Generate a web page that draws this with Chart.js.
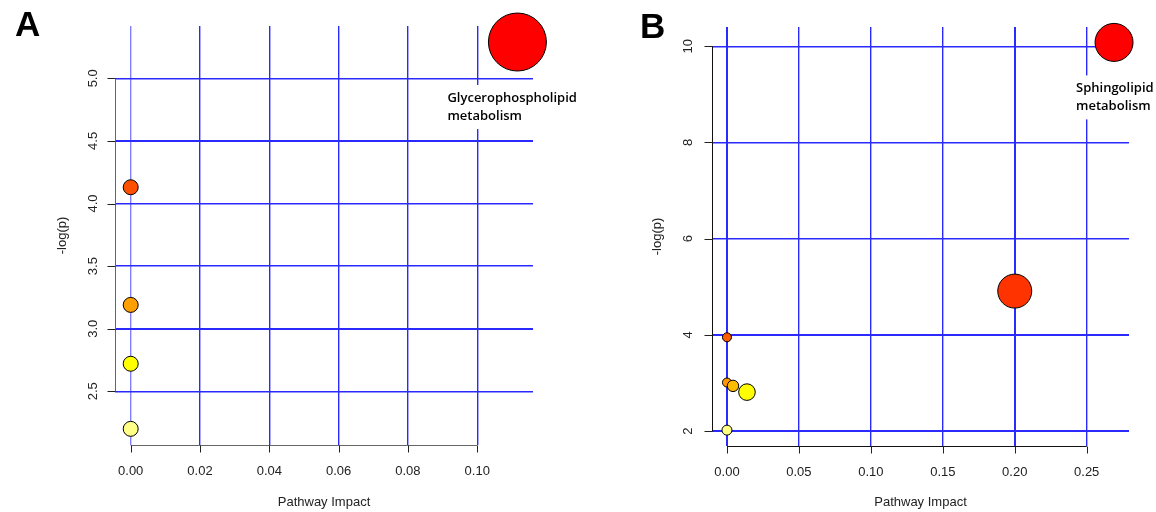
<!DOCTYPE html>
<html>
<head>
<meta charset="utf-8">
<script src="https://cdn.jsdelivr.net/npm/chart.js@4.4.1/dist/chart.umd.min.js"></script>
<style>
  html, body { margin: 0; padding: 0; background: #fff; }
  #wrap { position: relative; width: 1156px; height: 512px; overflow: hidden; }
  .panel { position: absolute; top: 0; width: 578px; height: 512px; }
  .letter { position: absolute; font-family: "Liberation Sans", Arial, sans-serif; font-weight: bold;
            font-size: 35px; line-height: 1; color: #000; }
</style>
</head>
<body>
<div id="wrap">
  <div class="panel" style="left:0"><canvas id="chartA" width="578" height="512"></canvas></div>
  <div class="panel" style="left:578px"><canvas id="chartB" width="578" height="512"></canvas></div>
  <div class="letter" style="left:15px;top:6px">A</div>
  <div class="letter" style="left:640px;top:8px">B</div>
</div>
<script>
// Panel A: pathway impact vs -log(p)
const impactA = [0.1116, 0, 0, 0, 0];
const logpA = [5.29, 4.13, 3.19, 2.72, 2.20];
const radiusA = [29, 7.5, 7.5, 7.5, 7.5];
const colorsA = ['#ff0000', '#ff5000', '#ffa000', '#ffff00', '#ffff88'];
const namesA = [['Glycerophospholipid', 'metabolism'], null, null, null, null];
const xTicksA = [0, 0.02, 0.04, 0.06, 0.08, 0.10];
const xTickLabelsA = ['0.00', '0.02', '0.04', '0.06', '0.08', '0.10'];
const yTicksA = [2.5, 3.0, 3.5, 4.0, 4.5, 5.0];
const yTickLabelsA = ['2.5', '3.0', '3.5', '4.0', '4.5', '5.0'];

// Panel B
const impactB = [0.269, 0.2, 0, 0, 0.0042, 0.0139, 0];
const logpB = [10.08, 4.91, 3.95, 3.01, 2.94, 2.81, 2.02];
const radiusB = [19, 17, 4.5, 4.5, 5.7, 8.3, 5];
const colorsB = ['#ff0000', '#ff3300', '#ff5c00', '#ff9800', '#ffbb00', '#ffff00', '#ffff88'];
const namesB = [['Sphingolipid', 'metabolism'], null, null, null, null, null, null];
const xTicksB = [0, 0.05, 0.10, 0.15, 0.20, 0.25];
const xTickLabelsB = ['0.00', '0.05', '0.10', '0.15', '0.20', '0.25'];
const yTicksB = [2, 4, 6, 8, 10];
const yTickLabelsB = ['2', '4', '6', '8', '10'];

const gridBlue = '#2a2aff';
const axisFont = { family: '"Liberation Sans", Arial, sans-serif', size: 13 };

// R style axis lines and tick marks, only from first to last tick
const rAxes = {
    id: 'rAxes',
    afterDraw(chart, args, opts) {
        const ctx = chart.ctx;
        const xs = chart.scales.x, ys = chart.scales.y;
        const area = chart.chartArea;
        const x0 = Math.round(area.left) + 0.5;
        const y0 = Math.round(area.bottom) + 0.5;
        ctx.save();
        ctx.lineWidth = 1;
        ctx.strokeStyle = opts.color;
        ctx.beginPath();
        ctx.moveTo(x0, ys.getPixelForValue(opts.yTicks[0]));
        ctx.lineTo(x0, ys.getPixelForValue(opts.yTicks[opts.yTicks.length - 1]));
        ctx.moveTo(xs.getPixelForValue(opts.xTicks[0]), y0);
        ctx.lineTo(xs.getPixelForValue(opts.xTicks[opts.xTicks.length - 1]), y0);
        ctx.stroke();
        ctx.strokeStyle = '#222';
        ctx.beginPath();
        opts.yTicks.forEach(v => {
            const py = Math.round(ys.getPixelForValue(v)) + 0.5;
            ctx.moveTo(x0 - 8, py);
            ctx.lineTo(x0, py);
        });
        opts.xTicks.forEach(v => {
            const px = Math.round(xs.getPixelForValue(v)) + 0.5;
            ctx.moveTo(px, y0);
            ctx.lineTo(px, y0 + 7);
        });
        ctx.stroke();
        ctx.restore();
    }
};

// pathway name labels on white boxes
const pathLabels = {
    id: 'pathLabels',
    afterDatasetsDraw(chart, args, opts) {
        const ctx = chart.ctx;
        const pts = chart.getDatasetMeta(0).data;
        ctx.save();
        ctx.font = opts.font;
        ctx.textBaseline = 'middle';
        ctx.textAlign = 'left';
        opts.names.forEach((lines, i) => {
            if (!lines) return;
            const px = pts[i].x + opts.dx, py = pts[i].y + opts.dy;
            let w = 0;
            lines.forEach(t => { w = Math.max(w, ctx.measureText(t).width); });
            ctx.fillStyle = '#fff';
            ctx.fillRect(px - 3, py - opts.lineH / 2 - 4, w + 6, opts.lineH * lines.length + 8);
            ctx.fillStyle = '#000';
            lines.forEach((t, k) => ctx.fillText(t, px, py + k * opts.lineH));
        });
        ctx.restore();
    }
};

function buildChart(id, d) {
    return new Chart(document.getElementById(id), {
        type: 'bubble',
        data: {
            datasets: [{
                data: d.impact.map((v, i) => ({ x: v, y: d.logp[i], r: d.radius[i] })),
                backgroundColor: d.colors,
                borderColor: '#000',
                borderWidth: 1,
                hoverRadius: 0,
                clip: false
            }]
        },
        options: {
            responsive: false,
            animation: false,
            events: [],
            layout: { padding: d.padding, autoPadding: false },
            plugins: {
                legend: { display: false },
                tooltip: { enabled: false },
                rAxes: { color: d.axisColor, xTicks: d.xTicks, yTicks: d.yTicks },
                pathLabels: { names: d.names, dx: d.labelDx, dy: d.labelDy, lineH: 18,
                              font: '600 13px "Open Sans", sans-serif' }
            },
            scales: {
                x: {
                    type: 'linear',
                    min: d.xMin,
                    max: d.xMax,
                    afterBuildTicks: s => { s.ticks = d.xTicks.map(v => ({ value: v })); },
                    afterFit: s => { s.height = d.xAxisH; s.paddingLeft = 0; s.paddingRight = 0; },
                    border: { display: false },
                    grid: { color: d.xGridColor, lineWidth: d.xGridWidth, tickLength: 7, drawTicks: true,
                            tickColor: 'rgba(0,0,0,0)' },
                    ticks: {
                        autoSkip: false, maxRotation: 0, padding: 12,
                        font: axisFont, color: '#222',
                        callback: (v, i) => d.xTickLabels[i]
                    },
                    title: { display: true, text: 'Pathway Impact', font: axisFont, color: '#222',
                             padding: { top: 4, bottom: 2 } }
                },
                y: {
                    type: 'linear',
                    min: d.yMin,
                    max: d.yMax,
                    afterBuildTicks: s => { s.ticks = d.yTicks.map(v => ({ value: v })); },
                    afterFit: s => { s.width = d.yAxisW; s.paddingTop = 0; s.paddingBottom = 0; },
                    border: { display: false },
                    grid: { color: gridBlue, lineWidth: d.yGridWidth, tickLength: 8, drawTicks: true,
                            tickColor: 'rgba(0,0,0,0)' },
                    ticks: {
                        autoSkip: false, minRotation: 90, maxRotation: 90, crossAlign: 'center',
                        padding: d.yTickPad, font: axisFont, color: '#222',
                        callback: (v, i) => d.yTickLabels[i]
                    },
                    title: { display: true, text: '-log(p)', font: axisFont, color: '#222',
                             padding: { top: 4, bottom: 4 } }
                }
            }
        },
        plugins: [rAxes, pathLabels]
    });
}

buildChart('chartA', {
    impact: impactA, logp: logpA, radius: radiusA, colors: colorsA, names: namesA,
    xTicks: xTicksA, xTickLabels: xTickLabelsA, yTicks: yTicksA, yTickLabels: yTickLabelsA,
    xMin: -0.00453, xMax: 0.1161, yMin: 2.071, yMax: 5.418,
    padding: { left: 51, top: 26, right: 45, bottom: 0 },
    yAxisW: 64, xAxisH: 67, yTickPad: 5, axisColor: '#666',
    xGridColor: ['#8080ff', gridBlue, gridBlue, gridBlue, gridBlue, gridBlue],
    xGridWidth: 1.4, yGridWidth: [1.4, 2, 1.4, 1.4, 2, 1.4],
    labelDx: -70, labelDy: 56
});

buildChart('chartB', {
    impact: impactB, logp: logpB, radius: radiusB, colors: colorsB, names: namesB,
    xTicks: xTicksB, xTickLabels: xTickLabelsB, yTicks: yTicksB, yTickLabels: yTickLabelsB,
    xMin: -0.0104, xMax: 0.2794, yMin: 1.69, yMax: 10.40,
    padding: { left: 68, top: 27, right: 27, bottom: 0 },
    yAxisW: 66, xAxisH: 66, yTickPad: 8, axisColor: '#111',
    xGridColor: gridBlue, xGridWidth: [2, 1.4, 1.4, 1.4, 2, 1.4], yGridWidth: [2, 2, 1.4, 1.4, 1.4],
    labelDx: -38, labelDy: 46
});
</script>
</body>
</html>
